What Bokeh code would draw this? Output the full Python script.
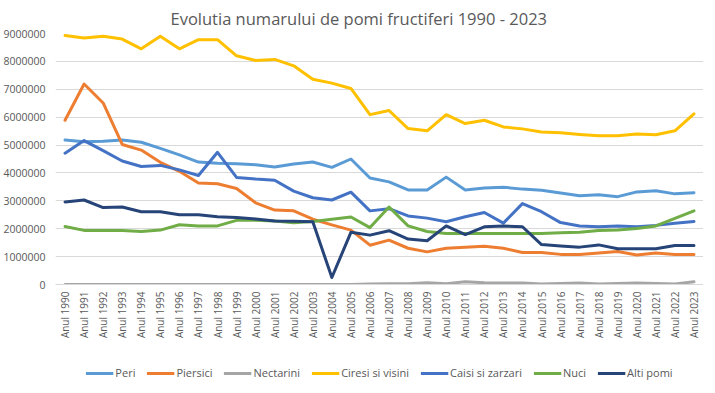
from bokeh.plotting import figure
from bokeh.layouts import column
from bokeh.models import ColumnDataSource, FactorRange, Range1d, FixedTicker, BasicTickFormatter, Legend, LegendItem
from bokeh.embed import file_html
from bokeh.resources import INLINE

years = [f"Anul {y}" for y in range(1990, 2024)]

peri = [5.18, 5.12, 5.14, 5.18, 5.10, 4.88, 4.65, 4.39, 4.35, 4.33, 4.29, 4.21, 4.32, 4.39, 4.20, 4.50,
        3.82, 3.68, 3.39, 3.39, 3.85, 3.39, 3.46, 3.49, 3.42, 3.38, 3.28, 3.18, 3.22, 3.15, 3.32, 3.36, 3.25, 3.29]
piersici = [5.89, 7.19, 6.51, 5.02, 4.82, 4.38, 4.06, 3.64, 3.61, 3.44, 2.93, 2.67, 2.64, 2.34, 2.14, 1.95,
            1.41, 1.59, 1.30, 1.17, 1.30, 1.34, 1.37, 1.30, 1.15, 1.15, 1.08, 1.08, 1.13, 1.18, 1.06, 1.13, 1.08, 1.08]
nectarini = [0.0, 0.0, 0.0, 0.0, 0.0, 0.0, 0.0, 0.0, 0.0, 0.0, 0.0, 0.0, 0.0, 0.0, 0.0, 0.0,
             0.02, 0.03, 0.03, 0.06, 0.03, 0.10, 0.06, 0.05, 0.05, 0.02, 0.04, 0.05, 0.02, 0.04, 0.05, 0.04, 0.02, 0.10]
ciresi = [8.93, 8.84, 8.90, 8.80, 8.45, 8.90, 8.45, 8.78, 8.78, 8.20, 8.03, 8.07, 7.84, 7.36, 7.22, 7.03,
          6.09, 6.24, 5.59, 5.51, 6.09, 5.77, 5.89, 5.65, 5.58, 5.47, 5.44, 5.38, 5.33, 5.33, 5.40, 5.37, 5.51, 6.12]
caisi = [4.71, 5.16, 4.80, 4.43, 4.23, 4.27, 4.11, 3.91, 4.74, 3.84, 3.78, 3.74, 3.35, 3.11, 3.03, 3.31,
         2.64, 2.72, 2.46, 2.38, 2.25, 2.43, 2.58, 2.20, 2.90, 2.61, 2.22, 2.10, 2.07, 2.10, 2.07, 2.12, 2.20, 2.26]
nuci = [2.08, 1.94, 1.94, 1.94, 1.90, 1.95, 2.14, 2.10, 2.10, 2.30, 2.30, 2.28, 2.21, 2.26, 2.34, 2.42,
        2.04, 2.78, 2.10, 1.90, 1.83, 1.83, 1.83, 1.83, 1.83, 1.83, 1.86, 1.87, 1.94, 1.95, 2.01, 2.10, 2.37, 2.64]
alti = [2.96, 3.03, 2.76, 2.78, 2.61, 2.61, 2.50, 2.50, 2.43, 2.40, 2.35, 2.28, 2.27, 2.25, 0.25, 1.87,
        1.77, 1.93, 1.63, 1.57, 2.10, 1.79, 2.07, 2.10, 2.07, 1.43, 1.38, 1.34, 1.42, 1.28, 1.28, 1.28, 1.40, 1.40]

series_names = ["Peri", "Piersici", "Nectarini", "Ciresi si visini", "Caisi si zarzari", "Nuci", "Alti pomi"]
series_vals = [peri, piersici, nectarini, ciresi, caisi, nuci, alti]
colors = ["#5B9BD5", "#ED7D31", "#A5A5A5", "#FFC000", "#4472C4", "#70AD47", "#264478"]
y_ticks = [i * 1000000 for i in range(10)]

FONT = "Open Sans"
GRAY = "#595959"

data = {"x": years}
for i, v in enumerate(series_vals):
    data[f"s{i}"] = [val * 1e6 for val in v]
src = ColumnDataSource(data)

p = figure(width=703, height=352, output_backend="svg", toolbar_location=None,
           x_range=FactorRange(*years, range_padding=0), y_range=Range1d(0, 9000000),
           min_border_left=53, min_border_right=0, min_border_top=30, min_border_bottom=68)

p.title.text = "Evolutia numarului de pomi fructiferi 1990 - 2023"
p.title.align = "left"
p.title.offset = 115
p.title.standoff = 8
p.title.text_font = FONT
p.title.text_font_size = "16.5px"
p.title.text_font_style = "normal"
p.title.text_color = GRAY

p.outline_line_color = None
p.xgrid.grid_line_color = None
p.ygrid.grid_line_color = "#D9D9D9"
p.ygrid.grid_line_width = 1

p.yaxis.ticker = FixedTicker(ticks=y_ticks)
p.yaxis.formatter = BasicTickFormatter(use_scientific=False)
p.yaxis.axis_line_color = None
p.yaxis.major_tick_line_color = None
p.yaxis.minor_tick_line_color = None
p.yaxis.major_tick_out = 0
p.yaxis.major_label_text_font = FONT
p.yaxis.major_label_text_font_size = "10.5px"
p.yaxis.major_label_text_color = GRAY
p.yaxis.major_label_standoff = 10

p.xaxis.axis_line_color = "#D9D9D9"
p.xaxis.major_tick_line_color = None
p.xaxis.minor_tick_line_color = None
p.xaxis.major_tick_out = 0
p.xaxis.major_label_orientation = 1.5708
p.xaxis.major_label_text_font = FONT
p.xaxis.major_label_text_font_size = "10px"
p.xaxis.major_label_text_color = GRAY
p.xaxis.major_label_standoff = 7

for i, col in enumerate(colors):
    p.line(x="x", y=f"s{i}", source=src, line_color=col, line_width=3,
           line_join="round", line_cap="round")

# legend strip below the chart (its lines lie outside its own visible range)
lg = figure(width=703, height=28, output_backend="svg", toolbar_location=None, title=None,
            x_range=Range1d(0, 1), y_range=Range1d(0, 1),
            x_axis_type=None, y_axis_type=None,
            min_border_left=0, min_border_right=0, min_border_top=0, min_border_bottom=0)
lg.outline_line_color = None
lg.xgrid.grid_line_color = None
lg.ygrid.grid_line_color = None
items = []
for name, col in zip(series_names, colors):
    r = lg.line(x=[-10, -9], y=[-10, -9], line_color=col, line_width=3)
    items.append(LegendItem(label=name, renderers=[r]))
legend = Legend(items=items, orientation="horizontal", location="bottom_center",
                glyph_width=28, glyph_height=14, label_standoff=2, spacing=11,
                label_text_font=FONT, label_text_font_size="11px", label_text_color=GRAY,
                border_line_color=None, background_fill_alpha=0, margin=0, padding=0)
lg.add_layout(legend, "center")

layout = column(p, lg, spacing=0)
open("out.html", "w").write(file_html(layout, INLINE))
